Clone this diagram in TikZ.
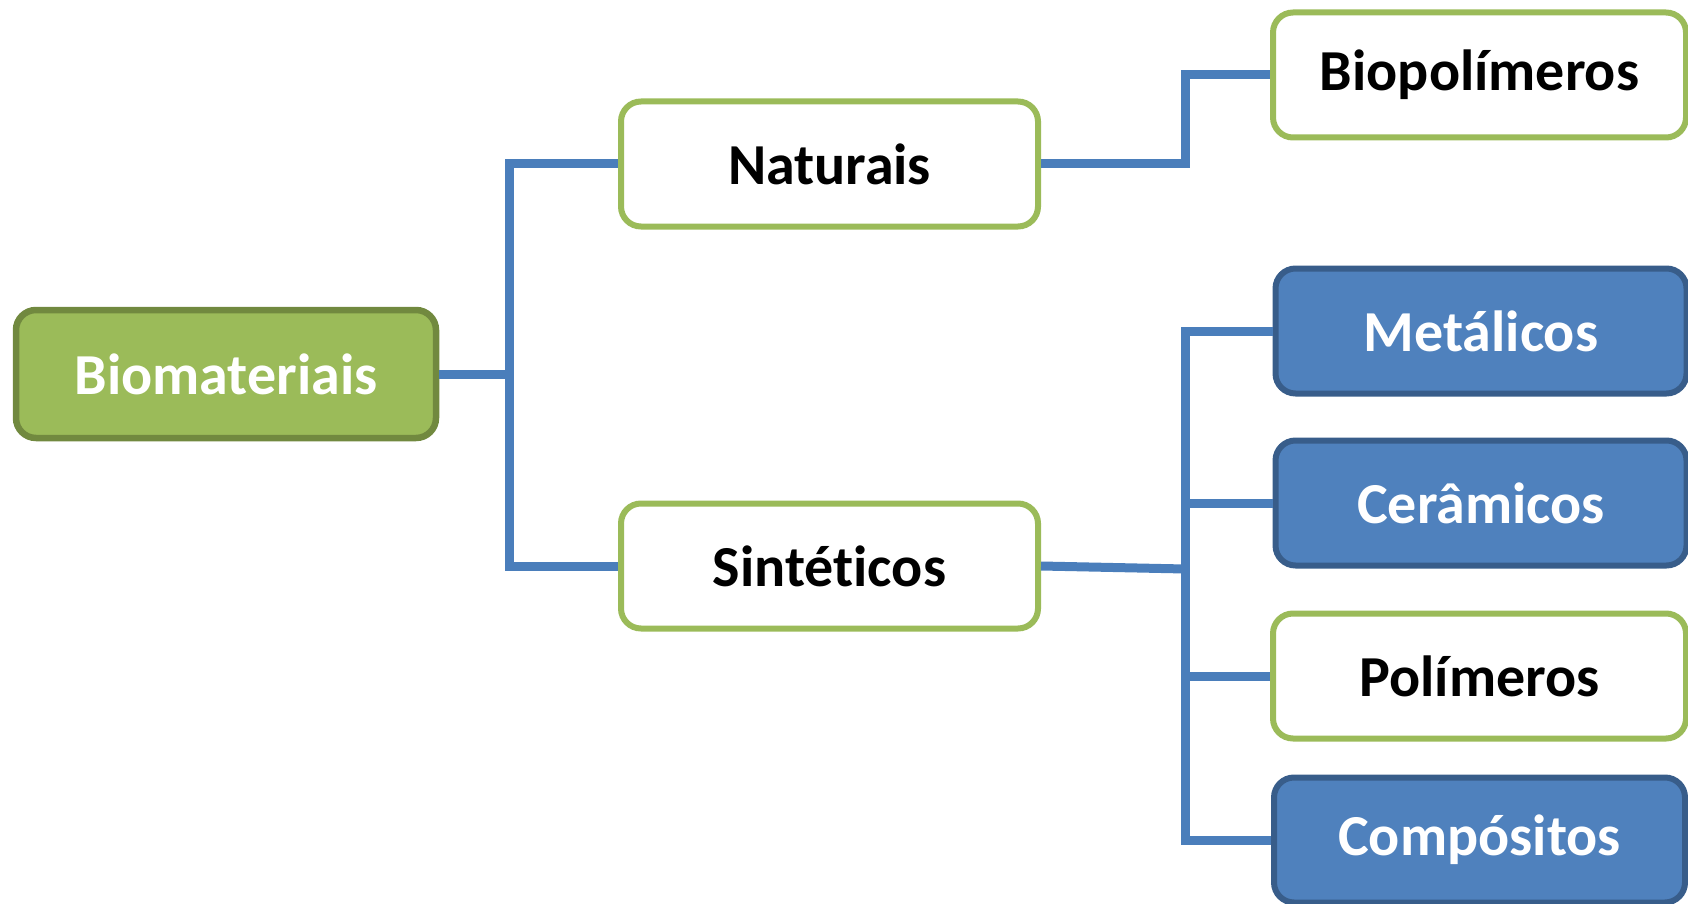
\documentclass[tikz,border=0pt]{standalone}
\usepackage{fontspec}
\setmainfont{Carlito}[Ligatures=NoCommon]
\usetikzlibrary{positioning}
\definecolor{leafgreen}{HTML}{9BBB59}
\definecolor{darkgreen}{HTML}{71893F}
\definecolor{boxblue}{HTML}{4F81BD}
\definecolor{darkblue}{HTML}{385D8A}
\definecolor{linkblue}{HTML}{4A7EBB}

\begin{document}
\begin{tikzpicture}[
                x=1pt,y=-1pt,
                every node/.append style={rectangle,rounded corners=20pt,inner sep=0pt,
                    minimum height=125pt,font=\fontsize{58}{68}\selectfont\bfseries},
                rootbox/.style={fill=leafgreen,draw=darkgreen,line width=6.5pt,text=white,
                    minimum width=420pt,minimum height=128pt},
                whitebox/.style={fill=white,draw=leafgreen,line width=6pt,text=black,minimum width=417pt},
                bluebox/.style={fill=boxblue,draw=darkblue,line width=6pt,text=white,minimum width=411pt},
                plainbox/.style={fill=white,draw=leafgreen,line width=6pt,text=black,minimum width=413pt},
                link/.style={draw=linkblue,line width=9pt}
            ]
                \useasboundingbox (0,0) rectangle (1688,904);
                \node[rootbox]  (bio)    at (226,374)    {Biomateriais};
                \node[whitebox] (nat)    at (829.5,164)  {Naturais};
                \node[whitebox] (syn)    at (829.5,566)  {Sintéticos};
                \node[plainbox] (biopol) at (1479.5,75)  {Biopolímeros};
                \node[bluebox]  (met)    at (1481,331)   {Metálicos};
                \node[bluebox]  (cer)    at (1481,503)   {Cerâmicos};
                \node[plainbox] (pol)    at (1479.5,676) {Polímeros};
                \node[bluebox]  (comp)   at (1479.5,840) {Compósitos};
                \coordinate (ta) at (509.5,0);
                \coordinate (tb) at (1185.5,0);
                \coordinate (join) at (1185.5,569);
                \draw[link] (bio.east) -- (bio.east -| ta);
                \draw[link] (nat.west) -- (nat.west -| ta) -- (syn.west -| ta) -- (syn.west);
                \draw[link] (nat.east) -- (nat.east -| tb) -- (biopol.west -| tb) -- (biopol.west);
                \draw[link] (syn.east) -- (join);
                \draw[link] (met.west) -- (met.west -| tb) -- (comp.west -| tb) -- (comp.west);
                \draw[link] (cer.west -| tb) -- (cer.west);
                \draw[link] (pol.west -| tb) -- (pol.west);
            \end{tikzpicture}
\end{document}
